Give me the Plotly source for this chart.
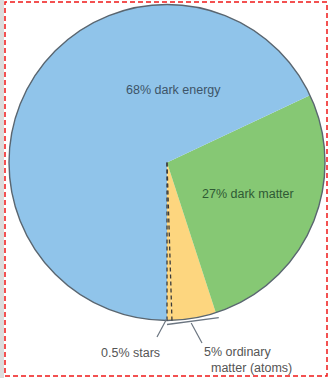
import math
import plotly.graph_objects as go

# ---- data ----
categories = ["stars", "ordinary matter (other)", "dark matter", "dark energy"]
values = [0.5, 4.5, 27, 68]          # percent
ordinary_total = 5
slice_colors = ["#FDD67F", "#FDD67F", "#86C874", "#90C4EA"]

label_energy = "68% dark energy"
label_dark = "27% dark matter"
label_stars = "0.5% stars"
label_ord = ["5% ordinary", "matter (atoms)"]

W, H = 330, 378
CX, CY, R = 167, 162.5, 158   # pie center / radius in px (layout)

def px(x):
    return x / W

def py(y):
    return 1 - y / H

total = sum(values)

def point(frac, rad):
    # start at 6 o'clock, counterclockwise on screen
    th = 2 * math.pi * frac
    return CX + rad * math.sin(th), CY + rad * math.cos(th)

# plotly (counterclockwise) places the first slice clockwise of the rotation line,
# so shift by the first slice so that it starts exactly at 6 o'clock
rotation = 180 - 360 * values[0] / total

dom = dict(x=[px(CX - R), px(CX + R)], y=[py(CY + R), py(CY - R)])

fig = go.Figure()
fig.add_trace(go.Pie(
    labels=categories, values=values, sort=False, direction="counterclockwise",
    rotation=rotation, marker=dict(colors=slice_colors, line=dict(width=0)),
    textinfo="none", hoverinfo="label+value", showlegend=False, domain=dom,
))
# outline circle
fig.add_trace(go.Pie(
    values=[1], sort=False,
    marker=dict(colors=["rgba(0,0,0,0)"], line=dict(color="#5A6670", width=1.4)),
    textinfo="none", hoverinfo="skip", showlegend=False, domain=dom,
))

shapes = []
# background strip + red dashed frame
shapes.append(dict(type="rect", xref="paper", yref="paper", x0=0, x1=px(4), y0=0, y1=1,
                   fillcolor="#DCDCDC", line=dict(width=0), layer="below"))
shapes.append(dict(type="rect", xref="paper", yref="paper", x0=px(5), x1=px(327), y0=py(376), y1=py(2),
                   line=dict(color="#F01818", width=1.5, dash="5px,3px")))

# dashed lines delimiting the stars slice
for f in [0, values[0] / total]:
    x1, y1 = point(f, R)
    shapes.append(dict(type="line", xref="paper", yref="paper",
                       x0=px(CX), y0=py(CY), x1=px(x1), y1=py(y1),
                       line=dict(color="#3A3A3A", width=1.3, dash="4px,3px")))

# bracket under ordinary matter
bx0, by0 = point(0, R + 3)
bx1, by1 = point(ordinary_total / total, R + 3)
shapes.append(dict(type="line", xref="paper", yref="paper",
                   x0=px(bx0), y0=py(by0 + 1), x1=px(bx1 + 2), y1=py(by1 + 2),
                   line=dict(color="#6B7580", width=1.4)))

# leader lines
sx, sy = point(values[0] / total / 2, R - 3)
shapes.append(dict(type="line", xref="paper", yref="paper",
                   x0=px(sx - 2), y0=py(sy), x1=px(157), y1=py(337),
                   line=dict(color="#6B7580", width=1.2)))
mx, my = point(ordinary_total / total / 2, R + 3)
shapes.append(dict(type="line", xref="paper", yref="paper",
                   x0=px(mx - 1), y0=py(my + 1.5), x1=px(202), y1=py(343),
                   line=dict(color="#6B7580", width=1.2)))

font_in = dict(family="Liberation Sans, Arial, sans-serif", size=12.5)
annotations = [
    dict(text=label_energy, x=px(174), y=py(90), font=dict(color="#3D5468", **font_in)),
    dict(text=label_dark, x=px(248), y=py(194), font=dict(color="#2F5A34", **font_in)),
    dict(text=label_stars, x=px(130), y=py(353), font=dict(color="#555555", **font_in)),
    dict(text=label_ord[0], x=px(237), y=py(352), font=dict(color="#555555", **font_in)),
    dict(text=label_ord[1], x=px(251), y=py(368), font=dict(color="#555555", **font_in)),
]
for a in annotations:
    a.update(xref="paper", yref="paper", showarrow=False, xanchor="center", yanchor="middle")

fig.update_layout(
    width=W, height=H, margin=dict(l=0, r=0, t=0, b=0),
    paper_bgcolor="white", plot_bgcolor="white",
    shapes=shapes, annotations=annotations, showlegend=False,
)
fig.write_html("out.html")
